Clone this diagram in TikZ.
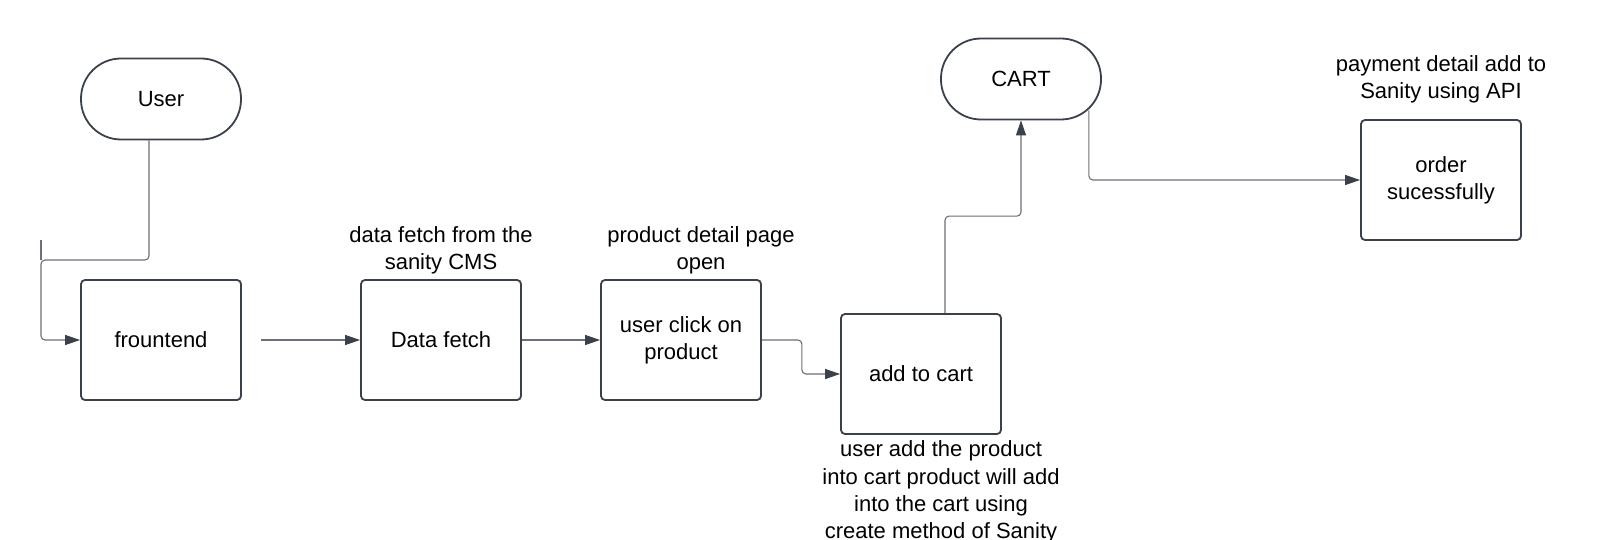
\documentclass[tikz,border=0pt]{standalone}
\usepackage{fontspec}
\setmainfont{Liberation Sans}
\usetikzlibrary{arrows.meta}
\definecolor{boxc}{HTML}{3A414A}
\definecolor{linec}{HTML}{6B7079}
\begin{document}
\begin{tikzpicture}[x=1pt,y=-1pt,
  font=\fontsize{22}{27.2}\selectfont,
  box/.style={draw=boxc, line width=1.8pt, rounded corners=4pt, minimum width=160pt, minimum height=120pt, inner sep=0pt, align=center},
  pill/.style={draw=boxc, line width=1.8pt, rounded corners=40pt, minimum width=160pt, minimum height=81pt, inner sep=0pt},
  lab/.style={align=center, inner sep=0pt},
  conn/.style={draw=linec, line width=1.1pt, rounded corners=4pt, -{Triangle[length=15pt,width=10pt,fill=boxc,color=boxc]}},
  plain/.style={draw=linec, line width=1.1pt, rounded corners=4pt}]
\useasboundingbox (0,0) rectangle (1601,540);
\fill[white] (0,0) rectangle (1601,540);

\node[pill] (user) at (161,99) {User};
\node[pill] (cart) at (1021,79) {CART};
\node[box] (frountend) at (161,340) {frountend};
\node[box] (datafetch) at (441,340) {Data fetch};
\node[box] (product) at (681,340) {user click on\\product};
\node[box] (addcart) at (921,374) {add to cart};
\node[box] (order) at (1441,180) {order\\sucessfully};

\node[lab] (lab1) at (441,250) {data fetch from the\\sanity CMS};
\node[lab] (lab2) at (701,250) {product detail page\\open};
\node[lab] (lab3) at (1441,79) {payment detail add to\\Sanity using API};
\node[lab] (lab4) at (941,492) {user add the product\\into cart product will add\\into the cart using\\create method of Sanity};

\coordinate (stub) at (41,260);
\coordinate (free) at (261,340);

\draw[conn] ([xshift=-12pt]user.south) |- (stub) -- (stub |- frountend.west) -- (frountend.west);
\draw[plain] (stub) -- ++(0,-20);
\draw[conn] (free) -- (datafetch.west);
\draw[conn] (datafetch.east) -- (product.west);
\draw[conn] (product.east) -- ++(40,0) |- (addcart.west);
\draw[conn] ([xshift=24pt]addcart.north) -- ++(0,-97) -| (cart.south);
\draw[conn] ([xshift=-13pt,yshift=10pt]cart.south east) |- (order.west);
\end{tikzpicture}
\end{document}
